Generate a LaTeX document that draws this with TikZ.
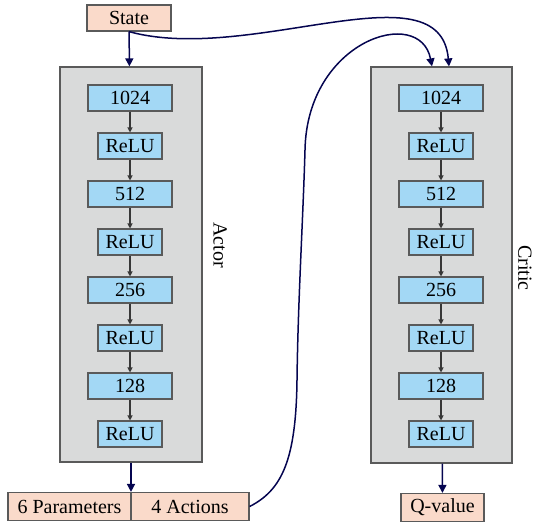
\documentclass[tikz,border=0pt]{standalone}
\usepackage{fontspec}
\setmainfont{Liberation Serif}
\usetikzlibrary{arrows.meta}
\definecolor{ioPink}{RGB}{250,218,202}
\definecolor{layerBlue}{RGB}{163,216,245}
\definecolor{netGray}{RGB}{217,218,218}
\definecolor{boxLine}{RGB}{90,90,90}
\definecolor{navyLine}{RGB}{5,5,80}
\definecolor{layerLine}{RGB}{55,55,55}
\tikzset{
  io/.style={draw=boxLine, fill=ioPink, line width=1.2pt, inner sep=0pt, minimum height=28pt},
  dense/.style={draw=boxLine, fill=layerBlue, line width=1.1pt, inner sep=0pt, minimum width=84pt, minimum height=26pt},
  relu/.style={dense, minimum width=64pt},
  net/.style={draw=boxLine, fill=netGray, line width=1.2pt, inner sep=0pt},
  flow/.style={-{Triangle[length=8pt,width=8pt]}, draw=navyLine, line width=1.5pt},
  layerarrow/.style={-{Triangle[length=5pt,width=5pt]}, draw=layerLine, line width=1.1pt},
  netlabel/.style={rotate=-90, inner sep=0pt}
}
\begin{document}
\begin{tikzpicture}[x=1pt, y=-1pt, font=\fontsize{20pt}{22pt}\selectfont]
\useasboundingbox (0,0) rectangle (537,523);
% inputs and outputs
\node[io, minimum width=84pt, minimum height=26pt] (state) at (129,18) {State};
\node[io, minimum width=123pt] (params) at (69.5,506.5) {6 Parameters};
\node[io, minimum width=118pt] (actions) at (190,506.5) {4 Actions};
\node[io, minimum width=83pt] (qvalue) at (442.5,507.5) {Q-value};
% actor
\node[net, minimum width=142pt, minimum height=395pt] (actor) at (131,264.5) {};
\node[netlabel] (actorlabel) at (220,245) {Actor};
\node[dense] (a1) at (130,98) {1024};
\node[relu] (a2) at (130,146) {ReLU};
\node[dense] (a3) at (130,194) {512};
\node[relu] (a4) at (130,242) {ReLU};
\node[dense] (a5) at (130,290) {256};
\node[relu] (a6) at (130,338) {ReLU};
\node[dense] (a7) at (130,386) {128};
\node[relu] (a8) at (130,434) {ReLU};
\draw[layerarrow] (a1) -- (a2);
\draw[layerarrow] (a2) -- (a3);
\draw[layerarrow] (a3) -- (a4);
\draw[layerarrow] (a4) -- (a5);
\draw[layerarrow] (a5) -- (a6);
\draw[layerarrow] (a6) -- (a7);
\draw[layerarrow] (a7) -- (a8);
% critic
\node[net, minimum width=141pt, minimum height=396pt] (critic) at (441.5,265) {};
\node[netlabel] (criticlabel) at (525,268) {Critic};
\node[dense] (c1) at (441,98) {1024};
\node[relu] (c2) at (441,146) {ReLU};
\node[dense] (c3) at (441,194) {512};
\node[relu] (c4) at (441,242) {ReLU};
\node[dense] (c5) at (441,290) {256};
\node[relu] (c6) at (441,338) {ReLU};
\node[dense] (c7) at (441,386) {128};
\node[relu] (c8) at (441,434) {ReLU};
\draw[layerarrow] (c1) -- (c2);
\draw[layerarrow] (c2) -- (c3);
\draw[layerarrow] (c3) -- (c4);
\draw[layerarrow] (c4) -- (c5);
\draw[layerarrow] (c5) -- (c6);
\draw[layerarrow] (c6) -- (c7);
\draw[layerarrow] (c7) -- (c8);
% data flow
\draw[flow] (state) -- (actor);
\draw[flow] (actor.south) -- (actor.south |- actions.north);
\draw[flow] (critic) -- (qvalue);
\draw[flow] (state.south) .. controls (250,65) and (440,-35) .. ([xshift=7.5pt]critic.north);
\draw[flow] (actions.east) .. controls (282,490) and (296,460) .. (297,380)
  .. controls (298,300) and (303,220) .. (305,150)
  .. controls (307,40) and (420,5) .. ([xshift=-9.5pt]critic.north);
\end{tikzpicture}
\end{document}
